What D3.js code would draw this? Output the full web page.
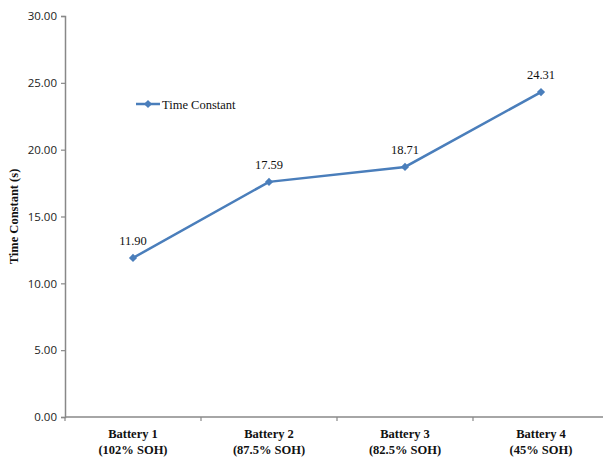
<!DOCTYPE html>
<html><head><meta charset="utf-8">
<script src="https://cdn.jsdelivr.net/npm/d3@7"></script>
<style>body{margin:0;background:#fff}</style>
</head><body>
<svg id="c" width="603" height="458"></svg>
<script>
const categories = [["Battery 1","(102% SOH)"],["Battery 2","(87.5% SOH)"],["Battery 3","(82.5% SOH)"],["Battery 4","(45% SOH)"]];
const values = [11.90, 17.59, 18.71, 24.31];
const yTicks = [0,5,10,15,20,25,30];
const seriesName = "Time Constant";

(function(){
const svg = d3.select("#c");
const mL = 65, mR = 609, mT = 16, mB = 417;
const color = "#4A7EBB";
const x = d3.scaleBand().domain(d3.range(categories.length)).range([mL, mR]);
const y = d3.scaleLinear().domain([0,30]).range([mB, mT]);

// y axis
const ya = svg.append("g").attr("transform",`translate(${mL},0)`)
  .call(d3.axisLeft(y).tickValues(yTicks).tickFormat(d3.format(".2f")).tickSize(4).tickPadding(4));
ya.select(".domain").attr("stroke","#888").attr("stroke-width",1.5);
ya.selectAll(".tick line").attr("stroke","#888").attr("stroke-width",1.2);
ya.selectAll(".tick text").attr("font-family","'Open Sans', 'Noto Sans', sans-serif").attr("font-size",11.5).attr("fill","#222");

// x axis
const xa = svg.append("g").attr("transform",`translate(0,${mB})`);
xa.append("line").attr("x1",mL).attr("x2",mR).attr("stroke","#888").attr("stroke-width",1.5);
const bounds = d3.range(categories.length+1).map(i => i < categories.length ? x(i) : x(i-1)+x.bandwidth());
xa.selectAll("line.tk").data(bounds).join("line").attr("class","tk")
  .attr("x1",d=>d).attr("x2",d=>d).attr("y1",0).attr("y2",4).attr("stroke","#888").attr("stroke-width",1.2);
const lbl = xa.selectAll("text.cat").data(categories).join("text").attr("class","cat")
  .attr("x",(d,i)=>x(i)+x.bandwidth()/2).attr("text-anchor","middle")
  .attr("font-family","'Liberation Serif', 'Times New Roman', serif").attr("font-weight","bold").attr("font-size",12.5).attr("fill","#111");
lbl.append("tspan").attr("x",(d,i)=>x(i)+x.bandwidth()/2).attr("y",21).text(d=>d[0]);
lbl.append("tspan").attr("x",(d,i)=>x(i)+x.bandwidth()/2).attr("y",37).text(d=>d[1]);

// y title
svg.append("text").attr("transform",`translate(18,${(mT+mB)/2}) rotate(-90)`)
  .attr("text-anchor","middle").attr("font-family","'Liberation Serif', serif").attr("font-weight","bold")
  .attr("font-size",12.5).attr("fill","#111").text("Time Constant (s)");

// line
const cx = i => x(i)+x.bandwidth()/2;
svg.append("path").datum(values).attr("fill","none").attr("stroke",color).attr("stroke-width",2.5)
  .attr("d", d3.line().x((d,i)=>cx(i)).y(d=>y(d)));
const diamond = d3.symbol().type(d3.symbolSquare).size(34);
svg.selectAll("path.m").data(values).join("path").attr("class","m")
  .attr("transform",(d,i)=>`translate(${cx(i)},${y(d)}) rotate(45)`).attr("d",diamond).attr("fill",color);
svg.selectAll("text.v").data(values).join("text").attr("class","v")
  .attr("x",(d,i)=>cx(i)).attr("y",d=>y(d)-13).attr("text-anchor","middle")
  .attr("font-family","'Liberation Serif', serif").attr("font-size",12.5).attr("fill","#111")
  .text(d=>d.toFixed(2));

// legend
const lg = svg.append("g").attr("transform","translate(136,104)");
lg.append("line").attr("x1",0).attr("x2",24).attr("stroke",color).attr("stroke-width",2.5);
lg.append("path").attr("transform","translate(12,0) rotate(45)").attr("d",diamond).attr("fill",color);
lg.append("text").attr("x",26).attr("y",4.5).attr("font-family","'Liberation Serif', serif")
  .attr("font-size",12.5).attr("fill","#111").text(seriesName);
})();
</script>
</body></html>
